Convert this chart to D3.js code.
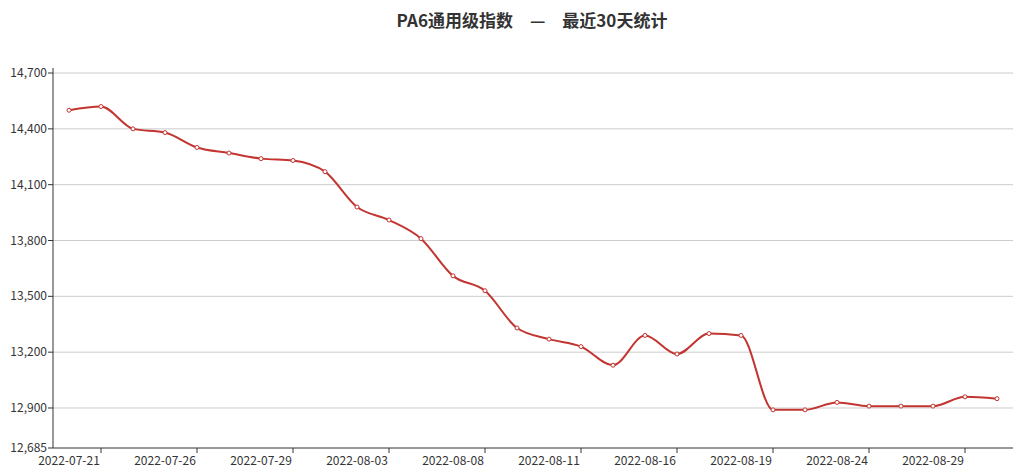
<!DOCTYPE html>
<html>
<head>
<meta charset="utf-8">
<script src="https://cdn.jsdelivr.net/npm/d3@7/dist/d3.min.js"></script>
<style>
body { margin: 0; background: #fff; font-family: "Microsoft YaHei", "Noto Sans CJK SC", sans-serif; }
</style>
</head>
<body>
<svg id="chart" width="1019" height="474"></svg>
<script>
var dates = ["2022-07-21","2022-07-22","2022-07-25","2022-07-26","2022-07-27","2022-07-28","2022-07-29",
  "2022-08-01","2022-08-02","2022-08-03","2022-08-04","2022-08-05","2022-08-08","2022-08-09","2022-08-10",
  "2022-08-11","2022-08-12","2022-08-15","2022-08-16","2022-08-17","2022-08-18","2022-08-19","2022-08-22",
  "2022-08-23","2022-08-24","2022-08-25","2022-08-26","2022-08-29","2022-08-30","2022-08-31"];
var values = [14500,14520,14400,14380,14300,14270,14240,14230,14170,13980,13910,13810,13610,13530,13330,
  13270,13230,13130,13290,13190,13300,13290,12890,12890,12930,12910,12910,12910,12960,12950];
var yTicks = [12685, 12900, 13200, 13500, 13800, 14100, 14400, 14700];

var svg = d3.select("#chart");
var mLeft = 53, mRight = 1013, mTop = 68, mBottom = 448;

var x = d3.scaleBand().domain(dates).range([mLeft, mRight]);
var y = d3.scaleLinear().domain([12685, 14727]).range([mBottom, mTop]);
var cx = function(d) { return x(d) + x.bandwidth() / 2; };

svg.append("text").attr("x", 532).attr("y", 27).attr("text-anchor", "middle")
  .style("font-size", "17px").style("font-weight", "bold").attr("fill", "#333")
  .text("PA6通用级指数\u3000—\u3000最近30天统计");

// grid lines
svg.selectAll("line.grid").data(yTicks.slice(1)).enter().append("line")
  .attr("x1", mLeft).attr("x2", mRight)
  .attr("y1", function(d){ return y(d); }).attr("y2", function(d){ return y(d); })
  .attr("stroke", "#ccc");

// y axis
svg.append("line").attr("x1", mLeft).attr("x2", mLeft).attr("y1", mTop).attr("y2", mBottom).attr("stroke", "#333");
svg.selectAll("line.ytick").data(yTicks).enter().append("line")
  .attr("x1", mLeft - 5).attr("x2", mLeft)
  .attr("y1", function(d){ return y(d); }).attr("y2", function(d){ return y(d); })
  .attr("stroke", "#333");
svg.selectAll("text.ylab").data(yTicks).enter().append("text")
  .attr("x", mLeft - 6).attr("y", function(d){ return y(d) + 4; })
  .attr("text-anchor", "end").style("font-size", "12px").attr("fill", "#333")
  .text(function(d){ return d3.format(",")(d); });

// x axis
svg.append("line").attr("x1", mLeft).attr("x2", mRight).attr("y1", mBottom).attr("y2", mBottom).attr("stroke", "#333");
var labelDates = dates.filter(function(d, i){ return i % 3 === 0; });
svg.selectAll("line.xtick").data(labelDates).enter().append("line")
  .attr("x1", function(d){ return x(d) + 3 * x.bandwidth() / 2; })
  .attr("x2", function(d){ return x(d) + 3 * x.bandwidth() / 2; })
  .attr("y1", mBottom).attr("y2", mBottom + 5).attr("stroke", "#333");
svg.selectAll("text.xlab").data(labelDates).enter().append("text")
  .attr("x", cx).attr("y", mBottom + 17).attr("text-anchor", "middle")
  .style("font-size", "12px").attr("fill", "#333").text(function(d){ return d; });

// line
var pts = dates.map(function(d, i){ return [cx(d), y(values[i])]; });
svg.append("path").attr("d", d3.line().curve(d3.curveMonotoneX)(pts))
  .attr("fill", "none").attr("stroke", "#c23531").attr("stroke-width", 2);
svg.selectAll("circle").data(pts).enter().append("circle")
  .attr("cx", function(d){ return d[0]; }).attr("cy", function(d){ return d[1]; })
  .attr("r", 2).attr("fill", "#fff").attr("stroke", "#c23531").attr("stroke-width", 1);
</script>
</body>
</html>
